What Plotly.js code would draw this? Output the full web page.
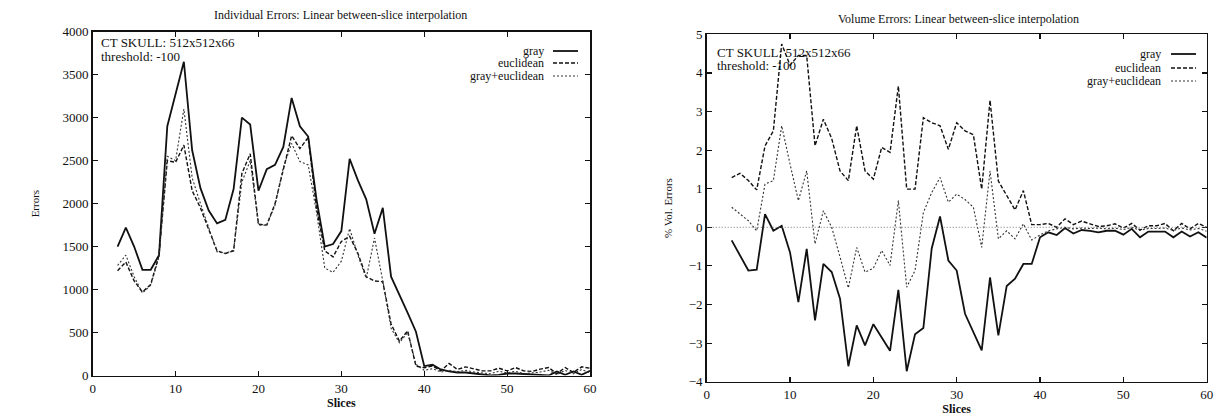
<!DOCTYPE html>
<html>
<head>
<meta charset="utf-8">
<script src="https://cdn.plot.ly/plotly-3.0.1.min.js"></script>
<style>html,body{margin:0;padding:0;background:#fff;}#chart{width:1221px;height:417px;}</style>
</head>
<body>
<div id="chart"></div>
<script>
// ---- data ----
const slices = [3,4,5,6,7,8,9,10,11,12,13,14,15,16,17,18,19,20,21,22,23,24,25,26,27,28,29,30,31,32,33,34,35,36,37,38,39,40,41,42,43,44,45,46,47,48,49,50,51,52,53,54,55,56,57,58,59,60];
const seriesNames = ["gray","euclidean","gray+euclidean"];

// Individual errors (left)
const indGray = [1500,1720,1500,1230,1230,1400,2900,3280,3650,2620,2180,1920,1770,1810,2170,3000,2920,2150,2400,2450,2660,3230,2900,2780,2050,1500,1530,1680,2520,2270,2050,1650,1950,1150,950,730,510,110,125,70,47,35,35,23,16,0,8,23,23,16,8,8,0,47,8,47,8,54];
const indEucl = [1220,1320,1100,970,1060,1400,2500,2480,2680,2150,1950,1700,1450,1420,1450,2350,2580,1760,1750,2000,2380,2790,2640,2770,1950,1450,1380,1560,1620,1420,1150,1100,1090,600,400,520,110,90,110,55,140,70,100,74,54,54,85,54,93,54,47,74,93,20,93,35,101,85];
const indBoth = [1280,1400,1150,960,1050,1380,2550,2500,3100,2300,2000,1720,1440,1420,1460,2250,2500,1750,1750,1980,2420,2700,2490,2450,1900,1250,1200,1330,1710,1400,1130,1600,1100,550,380,500,130,60,80,40,60,45,60,40,30,20,50,30,50,20,30,40,60,10,60,20,70,30];

// Volume errors (right), percent
const volGray = [-0.34,-0.73,-1.12,-1.10,0.34,-0.09,0.04,-0.65,-1.94,-0.56,-2.41,-0.95,-1.16,-1.85,-3.6,-2.54,-3.06,-2.51,-2.84,-3.2,-1.62,-3.73,-2.77,-2.61,-0.55,0.28,-0.86,-1.12,-2.24,-2.7,-3.19,-1.3,-2.8,-1.52,-1.33,-0.95,-0.95,-0.26,-0.13,-0.2,-0.02,-0.16,-0.07,-0.09,-0.13,-0.09,-0.09,-0.19,-0.04,-0.26,-0.11,-0.11,-0.11,-0.26,-0.11,-0.24,-0.13,-0.27];
const volEucl = [1.29,1.40,1.21,0.97,2.11,2.5,4.75,4.2,4.45,4.45,2.11,2.8,2.3,1.46,1.21,2.63,1.46,1.25,2.07,1.94,3.66,0.99,0.99,2.84,2.71,2.63,2.02,2.71,2.5,2.4,0.99,3.29,1.2,0.82,0.45,0.95,0.07,0.07,0.10,0.0,0.22,0.07,0.16,0.09,0.02,0.04,0.09,-0.02,0.10,-0.07,0.04,0.04,0.10,-0.09,0.10,-0.04,0.10,0.0];
const volBoth = [0.52,0.34,0.17,-0.09,1.12,1.21,2.63,1.64,0.69,1.46,-0.43,0.43,0.0,-0.77,-1.57,-0.52,-1.16,-1.06,-0.6,-0.99,0.69,-1.55,-1.12,0.38,0.9,1.29,0.65,0.86,0.72,0.52,-0.52,1.46,-0.3,-0.09,-0.3,0.09,-0.33,-0.2,-0.09,-0.04,0.0,-0.04,-0.02,-0.03,-0.02,-0.04,-0.02,-0.06,0.0,-0.08,-0.03,-0.03,-0.02,-0.08,-0.02,-0.07,-0.03,-0.1];

const leftTitle = "Individual Errors: Linear between-slice interpolation";
const rightTitle = "Volume Errors: Linear between-slice interpolation";
const infoLines = ["CT SKULL: 512x512x66","threshold: -100"];

// ---- styling ----
const W = 1221, H = 417;
const px = v => v / W;
const py = v => 1 - v / H;
const FONT = "'Liberation Serif', 'Times New Roman', serif";
const styles = [
  {color:"#111", width:1.8, dash:"solid"},
  {color:"#111", width:1.4, dash:"4px,2px"},
  {color:"#333", width:1.1, dash:"2px,2px"}
];

const traces = [];
[indGray, indEucl, indBoth].forEach((ys, i) => traces.push({
  x: slices, y: ys, type:"scatter", mode:"lines", name: seriesNames[i],
  line: Object.assign({}, styles[i]), xaxis:"x", yaxis:"y", showlegend:false
}));
[volGray, volEucl, volBoth].forEach((ys, i) => traces.push({
  x: slices, y: ys, type:"scatter", mode:"lines", name: seriesNames[i],
  line: Object.assign({}, styles[i]), xaxis:"x2", yaxis:"y2", showlegend:false
}));

const axisBase = {
  showline:true, linecolor:"#111", linewidth:1.6, mirror:"ticks",
  ticks:"inside", ticklen:5, tickwidth:1.2, tickcolor:"#111",
  showgrid:false, zeroline:false,
  tickfont:{family:FONT, size:13, color:"#111"}
};

const layout = {
  width:W, height:H, margin:{l:0,r:0,t:0,b:0},
  paper_bgcolor:"#fff", plot_bgcolor:"#fff", showlegend:false,
  xaxis: Object.assign({}, axisBase, {domain:[px(92.7), px(590)], range:[0,60], dtick:10, anchor:"y",
    title:{text:"<b>Slices</b>", font:{family:FONT, size:12, color:"#111"}, standoff:0}}),
  yaxis: Object.assign({}, axisBase, {domain:[py(375.5), py(31.7)], range:[0,4000], dtick:500, anchor:"x",
    title:{text:"Errors", font:{family:FONT, size:11, color:"#111"}, standoff:20}}),
  xaxis2: Object.assign({}, axisBase, {domain:[px(706.7), px(1206.7)], range:[0,60], dtick:10, anchor:"y2",
    title:{text:"<b>Slices</b>", font:{family:FONT, size:12, color:"#111"}, standoff:0}}),
  yaxis2: Object.assign({}, axisBase, {domain:[py(381.7), py(34.3)], range:[-4,5], dtick:1, anchor:"x2",
    title:{text:"% Vol. Errors", font:{family:FONT, size:11, color:"#111"}, standoff:14}}),
  annotations: [],
  shapes: [
    {type:"line", xref:"x2", yref:"y2", x0:0, x1:60, y0:0, y1:0, line:{color:"#777", width:1, dash:"1px,2px"}}
  ]
};

// titles
layout.annotations.push({text:leftTitle, xref:"paper", yref:"paper", x:px(340), y:py(15), showarrow:false,
  font:{family:FONT, size:12, color:"#111"}, xanchor:"center", yanchor:"middle"});
layout.annotations.push({text:rightTitle, xref:"paper", yref:"paper", x:px(958), y:py(19), showarrow:false,
  font:{family:FONT, size:12, color:"#111"}, xanchor:"center", yanchor:"middle"});

// info text
const infoPos = [{x:99, y:[42,56]}, {x:715, y:[52,65]}];
infoPos.forEach(p => infoLines.forEach((t, k) => layout.annotations.push({
  text:t, xref:"paper", yref:"paper", x:px(p.x), y:py(p.y[k]), showarrow:false,
  xanchor:"left", yanchor:"middle", font:{family:FONT, size:13, color:"#111"}
})));

// gnuplot-style keys (text right, sample on the right)
const keys = [
  {tx:546, s0:553, s1:578, ys:[51,63,76]},
  {tx:1163, s0:1171, s1:1196, ys:[54,68,81]}
];
keys.forEach(k => seriesNames.forEach((n, i) => {
  layout.annotations.push({text:n, xref:"paper", yref:"paper", x:px(k.tx), y:py(k.ys[i]), showarrow:false,
    xanchor:"right", yanchor:"middle", font:{family:FONT, size:12, color:"#111"}});
  layout.shapes.push({type:"line", xref:"paper", yref:"paper", x0:px(k.s0), x1:px(k.s1), y0:py(k.ys[i]), y1:py(k.ys[i]),
    line:{color:styles[i].color, width:styles[i].width, dash:styles[i].dash}});
}));

Plotly.newPlot("chart", traces, layout, {displayModeBar:false, staticPlot:true});
</script>
</body>
</html>
